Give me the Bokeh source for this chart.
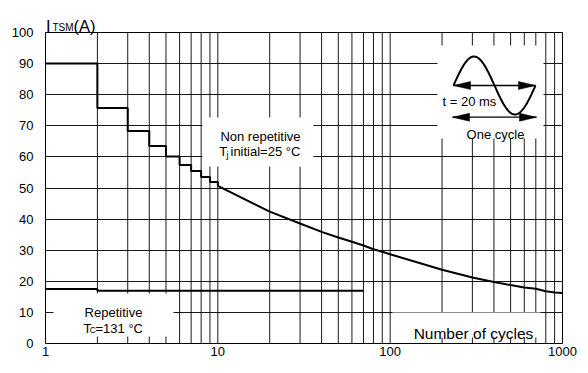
import numpy as np
from bokeh.plotting import figure
from bokeh.models import Range1d, LinearScale, FixedTicker, Label, LinearAxis
from bokeh.embed import file_html
from bokeh.resources import INLINE

# ---------------- data ----------------
step_cycles = [1, 2, 3, 4, 5, 6, 7, 8, 9, 10]
step_itsm = [90, 75.7, 68.3, 63.5, 60.1, 57.4, 55.5, 53.5, 51.9, 50.7]
curve_cycles = [10, 20, 30, 40, 50, 60, 70, 80, 90, 100,
                200, 300, 400, 500, 600, 700, 800, 900, 1000]
curve_itsm = [50.7, 42.4, 38.6, 35.9, 34.1, 32.7, 31.5, 30.3, 29.5, 28.7,
              23.7, 21.2, 19.8, 18.8, 18.0, 17.6, 16.8, 16.4, 16.2]
rep_cycles = [1, 2, 70]
rep_itsm = [17.5, 17.0, 17.0]
x_ticks = [1, 10, 100, 1000]
x_tick_labels = ["1", "10", "100", "1000"]
y_ticks = [0, 10, 20, 30, 40, 50, 60, 70, 80, 90, 100]
Y_MAX_VALUE = 100

FONT = "Liberation Sans"

# ---------------- layout (page pixels) ----------------
W, H = 588, 373
FL, FR = 45.0, 562.0          # plot box left / right
FT, FB = 32.0, 343.0          # plot box top (y=100) / bottom (y=0)
# the frame extends up to the top of the canvas so the axis title can live inside it
y_top = Y_MAX_VALUE * FB / (FB - FT)

def fx(px):
    return (px - FL) / (FR - FL)
def fy(py):
    return (FB - py) / (FB - FT)

p = figure(width=W, height=H, x_axis_type="log",
           x_range=Range1d(1, 1000), y_range=Range1d(0, y_top),
           output_backend="svg", toolbar_location=None,
           min_border_left=int(FL), min_border_right=int(W - FR), min_border_top=0,
           min_border_bottom=int(H - FB))
p.extra_x_ranges = {"fx": Range1d(0, 1)}
p.extra_y_ranges = {"fy": Range1d(0, FB / (FB - FT))}
p.extra_x_scales = {"fx": LinearScale()}
p.extra_y_scales = {"fy": LinearScale()}

p.background_fill_color = "white"
p.border_fill_color = "white"
p.outline_line_color = None

# axes
for ax in (p.xaxis[0], p.yaxis[0]):
    ax.axis_line_color = "black"
    ax.axis_line_width = 1
    ax.major_tick_line_color = None
    ax.minor_tick_line_color = None
    ax.major_tick_out = 0
    ax.major_tick_in = 0
    ax.minor_tick_out = 0
    ax.minor_tick_in = 0
    ax.major_label_text_font = FONT
    ax.major_label_text_font_size = "13px"
    ax.major_label_text_color = "black"
p.xaxis.ticker = FixedTicker(ticks=x_ticks)
p.xaxis.major_label_overrides = {t: l for t, l in zip(x_ticks, x_tick_labels)}
p.xaxis.major_label_standoff = 3
p.yaxis.ticker = FixedTicker(ticks=y_ticks)
p.yaxis.major_label_standoff = 12
p.yaxis.bounds = (0, Y_MAX_VALUE)

right_axis = LinearAxis(ticker=FixedTicker(ticks=[]), bounds=(0, Y_MAX_VALUE),
                        axis_line_color="black", axis_line_width=1,
                        major_tick_line_color=None, minor_tick_line_color=None,
                        major_tick_out=0, major_tick_in=0, minor_tick_out=0, minor_tick_in=0)
p.add_layout(right_axis, "right")

# grids: horizontal via the grid, vertical (log minor) drawn only inside the plot box
grid_x = [m * 10 ** e for e in range(3) for m in range(1, 10)] + [1000]
p.xgrid.grid_line_color = None
p.ygrid.ticker = FixedTicker(ticks=y_ticks)
p.ygrid.grid_line_color = "black"
p.ygrid.grid_line_alpha = 0.9
p.ygrid.grid_line_width = 1
p.segment(x0=grid_x, y0=[0] * len(grid_x), x1=grid_x, y1=[Y_MAX_VALUE] * len(grid_x),
          line_color="black", line_alpha=0.9, line_width=1)

# white text boxes covering the grid
boxes = [(202, 313, 117, 166), (437, 543, 45, 138), (53, 173, 293, 336), (392, 540, 312, 337)]
p.quad(left=[fx(b[0]) for b in boxes], right=[fx(b[1]) for b in boxes],
       top=[fy(b[2]) for b in boxes], bottom=[fy(b[3]) for b in boxes],
       fill_color="white", line_color=None, x_range_name="fx", y_range_name="fy")
# top border of the plot box
p.line([1, 1000], [Y_MAX_VALUE, Y_MAX_VALUE], line_color="black", line_width=1)

# data lines
p.step(step_cycles, step_itsm, mode="after", line_color="black", line_width=2)
p.line(curve_cycles, curve_itsm, line_color="black", line_width=2)
p.step(rep_cycles, rep_itsm, mode="after", line_color="black", line_width=2)

# inset: one sine cycle with arrows
t = np.linspace(0, 1, 80)
sx = 453 + 82 * t
sy = 85 - 29 * np.sin(2 * np.pi * t)
p.line(fx(sx), fy(sy), line_color="black", line_width=2, x_range_name="fx", y_range_name="fy")
for (x0, x1, yy) in [(453, 535, 85), (452, 536, 116.7)]:
    p.line([fx(x0), fx(x1)], [fy(yy), fy(yy)], line_color="black", line_width=1.3,
           x_range_name="fx", y_range_name="fy")
    p.patches([[fx(x0), fx(x0 + 17), fx(x0 + 17)], [fx(x1), fx(x1 - 17), fx(x1 - 17)]],
              [[fy(yy), fy(yy - 4), fy(yy + 4)], [fy(yy), fy(yy - 4), fy(yy + 4)]],
              fill_color="black", line_color="black", line_width=0.5,
              x_range_name="fx", y_range_name="fy")

def lab(text, px, py, size="13px", align="left"):
    p.add_layout(Label(x=fx(px), y=fy(py), text=text, x_range_name="fx", y_range_name="fy",
                       text_font=FONT, text_font_size=size, text_color="black",
                       text_align=align, text_baseline="alphabetic"))

# axis title  I_TSM(A)
lab("I", 45.5, 25, "16.5px")
lab("TSM", 52, 27, "10px")
lab("(A)", 73, 25, "16.5px")

# annotations
lab("Non repetitive", 260, 136, align="center")
lab("T", 218.7, 151)
lab("j", 226, 154.5, "9px")
lab("initial=25 °C", 230, 151)

lab("Repetitive", 113, 312.3, align="center")
lab("T", 83, 328.3)
lab("C", 89.3, 329.5, "8.5px")
lab("=131 °C", 95, 328.3)

lab("Number of cycles", 473, 332.7, "15.5px", align="center")
lab("t = 20 ms", 442, 101)
lab("One cycle", 495, 134.3, align="center")

open("out.html", "w").write(file_html(p, INLINE))
